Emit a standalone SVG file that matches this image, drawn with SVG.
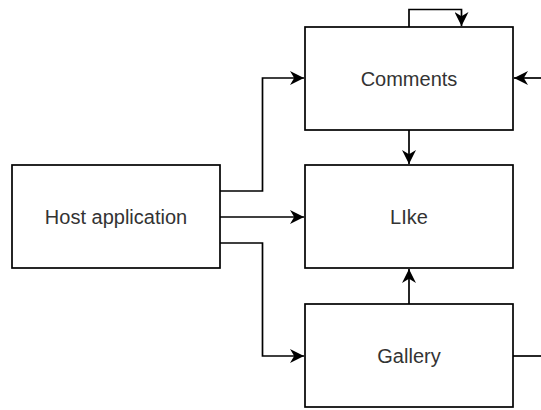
<svg xmlns="http://www.w3.org/2000/svg" width="541" height="410" viewBox="0 0 541 410">
<style>
.box{fill:#fff;stroke:#000;stroke-width:1.7}
.lbl{font-family:"Liberation Sans",Arial,sans-serif;font-size:20px;fill:#333;text-anchor:middle;dominant-baseline:central}
.edge{fill:none;stroke:#000;stroke-width:1.7}
</style>
<defs>
<marker id="arr" viewBox="0 0 10 10" refX="10" refY="5" markerWidth="14" markerHeight="14" markerUnits="userSpaceOnUse" orient="auto">
<path d="M0,0 L10,5 L0,10 L3,5 Z" fill="#000"/>
</marker>
</defs>
<g id="connectors">
<path class="edge" d="M220,191 H262.5 V78 H304" marker-end="url(#arr)"/>
<path class="edge" d="M220,217 H304" marker-end="url(#arr)"/>
<path class="edge" d="M220,243 H262.5 V356 H304" marker-end="url(#arr)"/>
<path class="edge" d="M409,130 V164" marker-end="url(#arr)"/>
<path class="edge" d="M409,304 V269" marker-end="url(#arr)"/>
<path class="edge" d="M409,27 V9.5 H461.5 V26" marker-end="url(#arr)"/>
<path class="edge" d="M513,356 H541"/>
<path class="edge" d="M541,78 H514" marker-end="url(#arr)"/>
</g>
<g id="host">
<rect class="box" x="12" y="165" width="208" height="103"/>
<text class="lbl" x="116" y="216.5">Host application</text>
</g>
<g id="comments">
<rect class="box" x="305" y="27" width="208" height="103"/>
<text class="lbl" x="409" y="78.5">Comments</text>
</g>
<g id="like">
<rect class="box" x="305" y="165" width="208" height="103"/>
<text class="lbl" x="409" y="216.5">LIke</text>
</g>
<g id="gallery">
<rect class="box" x="305" y="304" width="208" height="103"/>
<text class="lbl" x="409" y="355.5">Gallery</text>
</g>
</svg>
